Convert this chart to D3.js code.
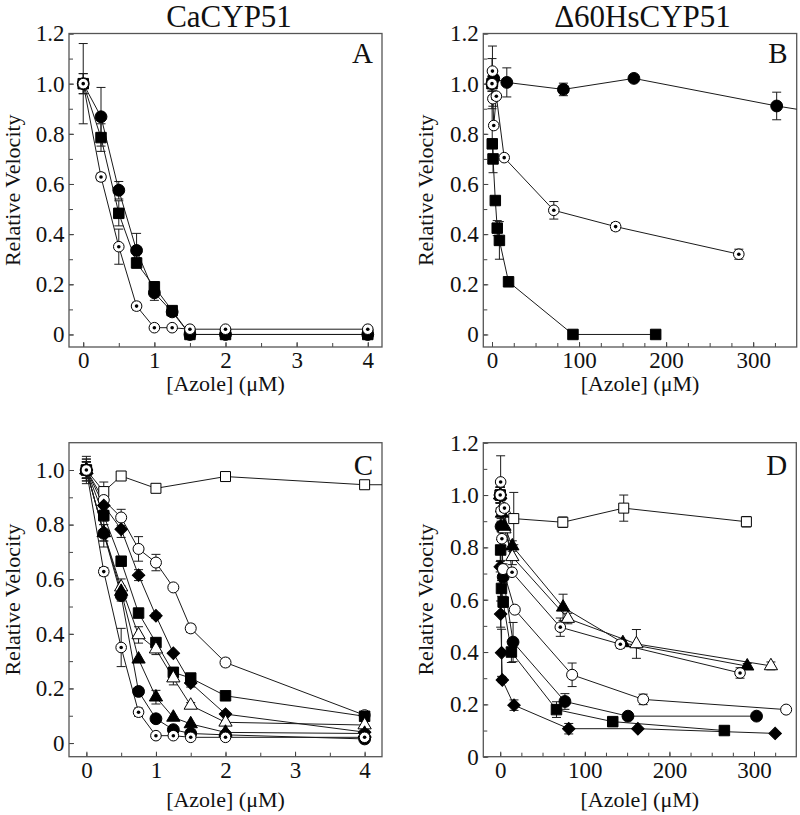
<!DOCTYPE html>
<html><head><meta charset="utf-8">
<script src="https://cdn.jsdelivr.net/npm/d3@7"></script>
<style>body{margin:0;background:#fff}svg{display:block}svg text{font-family:"Liberation Serif","Times New Roman",serif}</style>
</head><body>
<script>
// ================= DATA =================
const titleLeft = "CaCYP51";
const titleRight = "\u039460HsCYP51";
const xTitle = "[Azole] (\u03bcM)";
const yTitle = "Relative Velocity";

const xTicksSmall = [0, 1, 2, 3, 4];
const xTicksLarge = [0, 100, 200, 300];
const yTicks12 = [0, 0.2, 0.4, 0.6, 0.8, 1.0, 1.2];
const yTicks10 = [0, 0.2, 0.4, 0.6, 0.8, 1.0];

// Panel A (CaCYP51)
const A_x = [0, 0.25, 0.5, 0.75, 1, 1.25, 1.5, 2, 4];
const A_filledCircle     = [1.0, 0.868, 0.575, 0.335, 0.166, 0.09, 0, 0, 0];
const A_filledCircle_err = [0.16, 0.117, 0.035, 0.068, 0.03, 0.015, 0, 0, 0];
const A_filledSquare     = [1.0, 0.785, 0.483, 0.285, 0.19, 0.095, 0, 0, 0];
const A_filledSquare_err = [0.04, 0.055, 0.05, 0.02, 0.02, 0.01, 0, 0, 0];
const A_dotCircle        = [1.0, 0.628, 0.35, 0.113, 0.027, 0.027, 0.021, 0.021, 0.021];
const A_dotCircle_err    = [0.04, 0.015, 0.07, 0.015, 0, 0, 0, 0, 0];

// Panel B (Δ60HsCYP51)
const B_filledCircle_x   = [0, 2, 17, 82, 163, 327, 400];
const B_filledCircle     = [1.0, 1.02, 1.005, 0.977, 1.021, 0.911, 0.87];
const B_filledCircle_err = [0.1, 0.03, 0.058, 0.025, 0.01, 0.055, 0];
const B_dotCircle_x      = [0, 0.5, 1, 2, 5, 14, 71, 142, 283.5];
const B_dotCircle        = [1.0, 1.05, 0.94, 0.833, 0.95, 0.705, 0.495, 0.43, 0.32];
const B_dotCircle_err    = [0.03, 0.1, 0.03, 0, 0.01, 0.01, 0.035, 0.015, 0.02];
const B_filledSquare_x   = [0, 0.3, 1.2, 3.8, 6, 8.5, 19, 93, 188];
const B_filledSquare     = [1.0, 0.76, 0.70, 0.534, 0.424, 0.375, 0.21, 0, 0];
const B_filledSquare_err = [0.03, 0, 0.055, 0, 0.03, 0.075, 0, 0, 0];

// Panel C (CaCYP51, more azoles)
const C_x = [0, 0.25, 0.5, 0.75, 1, 1.25, 1.5, 2, 4];
const C_openSquare_x       = [0, 0.25, 0.5, 1, 2, 4, 8];
const C_openSquare         = [1.0, 0.921, 0.978, 0.933, 0.976, 0.946, 0.946];
const C_openSquare_err     = [0.05, 0.035, 0, 0, 0.01, 0, 0];
const C_openCircle         = [1.0, 0.89, 0.826, 0.711, 0.661, 0.57, 0.42, 0.295, 0.102];
const C_openCircle_err     = [0.04, 0.02, 0.03, 0.045, 0.03, 0, 0.015, 0.015, 0.01];
const C_filledDiamond      = [1.0, 0.87, 0.783, 0.615, 0.466, 0.329, 0.22, 0.106, 0.04];
const C_filledDiamond_err  = [0.03, 0.02, 0.03, 0.02, 0.01, 0, 0.015, 0, 0];
const C_filledSquare       = [1.0, 0.833, 0.666, 0.476, 0.368, 0.259, 0.238, 0.173, 0.098];
const C_filledSquare_err   = [0.03, 0.02, 0, 0.015, 0.015, 0.01, 0.015, 0, 0];
const C_openTriangle       = [1.0, 0.77, 0.571, 0.396, 0.344, 0.238, 0.138, 0.076, 0.066];
const C_openTriangle_err   = [0.03, 0.03, 0.03, 0.03, 0.02, 0.025, 0.01, 0, 0];
const C_filledTriangle     = [1.0, 0.77, 0.555, 0.307, 0.168, 0.094, 0.07, 0.039, 0.035];
const C_filledTriangle_err = [0.03, 0.03, 0.02, 0, 0.025, 0, 0, 0, 0];
const C_filledCircle       = [1.0, 0.768, 0.54, 0.189, 0.089, 0.049, 0.035, 0.03, 0.015];
const C_filledCircle_err   = [0.03, 0.05, 0.02, 0, 0, 0, 0, 0, 0];
const C_dotCircle          = [1.0, 0.628, 0.35, 0.113, 0.027, 0.027, 0.021, 0.021, 0.021];
const C_dotCircle_err      = [0.04, 0.015, 0.07, 0.015, 0, 0, 0, 0, 0];

// Panel D (Δ60HsCYP51, more azoles)
const D_openSquare_x       = [0, 16, 74, 146, 291];
const D_openSquare         = [1.0, 0.91, 0.896, 0.95, 0.898];
const D_openSquare_err     = [0.03, 0.1, 0.02, 0.05, 0.02];
const D_filledTriangle_x   = [0, 2, 5, 14.3, 74.3, 145, 292];
const D_filledTriangle     = [1.0, 0.93, 0.88, 0.805, 0.571, 0.435, 0.346];
const D_filledTriangle_err = [0.03, 0, 0, 0.02, 0.05, 0.01, 0.01];
const D_openTriangle_x     = [0, 2, 5, 14.3, 80, 161, 320];
const D_openTriangle       = [1.0, 0.95, 0.87, 0.764, 0.528, 0.431, 0.347];
const D_openTriangle_err   = [0.03, 0, 0, 0.03, 0.02, 0.055, 0.015];
const D_dotCircle_x        = [0, 0.5, 1, 2, 5, 14, 71, 142, 283.5];
const D_dotCircle          = [1.0, 1.05, 0.94, 0.833, 0.95, 0.705, 0.495, 0.43, 0.32];
const D_dotCircle_err      = [0.03, 0.1, 0.03, 0, 0.01, 0.01, 0.035, 0.015, 0.02];
const D_openCircle_x       = [0, 3.3, 17.2, 85, 169, 338];
const D_openCircle         = [1.0, 0.717, 0.562, 0.313, 0.219, 0.18];
const D_openCircle_err     = [0.05, 0.02, 0, 0.045, 0.02, 0];
const D_filledCircle_x     = [0, 1, 3.5, 15.2, 76.5, 151, 303];
const D_filledCircle       = [1.0, 0.88, 0.687, 0.438, 0.211, 0.155, 0.155];
const D_filledCircle_err   = [0.03, 0.02, 0.02, 0.075, 0.03, 0.01, 0.01];
const D_filledSquare_x     = [0, 0.5, 1.5, 3.5, 13.2, 66.5, 133, 265];
const D_filledSquare       = [1.0, 0.79, 0.643, 0.591, 0.40, 0.18, 0.134, 0.10];
const D_filledSquare_err   = [0.03, 0.04, 0.03, 0.02, 0.04, 0.03, 0, 0];
const D_filledDiamond_x    = [0, 0, 0.5, 1.6, 2.5, 16.3, 81, 162.7, 325];
const D_filledDiamond      = [1.0, 0.726, 0.545, 0.397, 0.293, 0.197, 0.107, 0.107, 0.089];
const D_filledDiamond_err  = [0.03, 0.02, 0.05, 0.09, 0.01, 0.02, 0.02, 0, 0];

// ================= LAYOUT =================
const FONT = '"Liberation Serif", "Times New Roman", serif';
const panels = [
  { key: "A", x0: 69, x1: 382, y0: 33.5, y1: 347, xDom: [-0.2, 4.2], yDom: [-0.05, 1.2],
    xMajor: xTicksSmall, xMinor: d3.range(0, 4.01, 0.5), yMajor: yTicks12, yMinor: d3.range(0, 1.21, 0.1),
    letterDY: 29.5, xTitleY: 391, yTitleX: 19.5,
    series: [
      { t: "filledSquare", x: A_x, y: A_filledSquare, e: A_filledSquare_err },
      { t: "filledCircle", x: A_x, y: A_filledCircle, e: A_filledCircle_err },
      { t: "dotCircle", x: A_x, y: A_dotCircle, e: A_dotCircle_err }
    ] },
  { key: "B", x0: 483.3, x1: 796.7, y0: 33.5, y1: 347, xDom: [-10, 350], yDom: [-0.05, 1.2],
    xMajor: xTicksLarge, xMinor: d3.range(0, 326, 25), yMajor: yTicks12, yMinor: d3.range(0, 1.21, 0.1),
    letterDY: 29.5, xTitleY: 391, yTitleX: 433,
    series: [
      { t: "filledCircle", x: B_filledCircle_x, y: B_filledCircle, e: B_filledCircle_err },
      { t: "filledSquare", x: B_filledSquare_x, y: B_filledSquare, e: B_filledSquare_err },
      { t: "dotCircle", x: B_dotCircle_x, y: B_dotCircle, e: B_dotCircle_err }
    ] },
  { key: "C", x0: 69, x1: 382, y0: 442.7, y1: 756.7, xDom: [-0.25, 4.25], yDom: [-0.05, 1.1],
    xMajor: xTicksSmall, xMinor: d3.range(0, 4.01, 0.5), yMajor: yTicks10, yMinor: d3.range(0, 1.01, 0.1),
    letterDY: 32, xTitleY: 807, yTitleX: 19.5,
    series: [
      { t: "openSquare", x: C_openSquare_x, y: C_openSquare, e: C_openSquare_err },
      { t: "openCircle", x: C_x, y: C_openCircle, e: C_openCircle_err },
      { t: "filledDiamond", x: C_x, y: C_filledDiamond, e: C_filledDiamond_err },
      { t: "filledSquare", x: C_x, y: C_filledSquare, e: C_filledSquare_err },
      { t: "openTriangle", x: C_x, y: C_openTriangle, e: C_openTriangle_err },
      { t: "filledTriangle", x: C_x, y: C_filledTriangle, e: C_filledTriangle_err },
      { t: "filledCircle", x: C_x, y: C_filledCircle, e: C_filledCircle_err },
      { t: "dotCircle", x: C_x, y: C_dotCircle, e: C_dotCircle_err }
    ] },
  { key: "D", x0: 483.3, x1: 796.3, y0: 442.7, y1: 756.7, xDom: [-20, 350], yDom: [0, 1.2],
    xMajor: xTicksLarge, xMinor: d3.range(0, 326, 25), yMajor: yTicks12, yMinor: d3.range(0, 1.21, 0.1),
    letterDY: 32, xTitleY: 807, yTitleX: 433,
    series: [
      { t: "openSquare", x: D_openSquare_x, y: D_openSquare, e: D_openSquare_err },
      { t: "filledDiamond", x: D_filledDiamond_x, y: D_filledDiamond, e: D_filledDiamond_err },
      { t: "filledSquare", x: D_filledSquare_x, y: D_filledSquare, e: D_filledSquare_err },
      { t: "filledCircle", x: D_filledCircle_x, y: D_filledCircle, e: D_filledCircle_err },
      { t: "openCircle", x: D_openCircle_x, y: D_openCircle, e: D_openCircle_err },
      { t: "openTriangle", x: D_openTriangle_x, y: D_openTriangle, e: D_openTriangle_err },
      { t: "filledTriangle", x: D_filledTriangle_x, y: D_filledTriangle, e: D_filledTriangle_err },
      { t: "dotCircle", x: D_dotCircle_x, y: D_dotCircle, e: D_dotCircle_err }
    ] }
];

const markerStyle = {
  filledCircle:   { sym: d3.symbolCircle,   size: 110, fill: "#000", rot: 0 },
  filledSquare:   { sym: d3.symbolSquare,   size: 110, fill: "#000", rot: 0 },
  openCircle:     { sym: d3.symbolCircle,   size: 95,  fill: "#fff", rot: 0 },
  openSquare:     { sym: d3.symbolSquare,   size: 100, fill: "#fff", rot: 0 },
  filledTriangle: { sym: d3.symbolTriangle, size: 76,  fill: "#000", rot: 0 },
  openTriangle:   { sym: d3.symbolTriangle, size: 76,  fill: "#fff", rot: 0 },
  filledDiamond:  { sym: d3.symbolSquare,   size: 78,  fill: "#000", rot: 45 },
  dotCircle:      { sym: d3.symbolCircle,   size: 88,  fill: "#fff", rot: 0 }
};

// ================= DRAW =================
const svg = d3.select("body").append("svg").attr("width", 800).attr("height", 815);
const defs = svg.append("defs");
const txt = (sel, size) => sel.style("font-family", FONT).style("font-size", size + "px").attr("fill", "#111");

txt(svg.append("text").attr("x", 229).attr("y", 27).attr("text-anchor", "middle"), 31).text(titleLeft);
txt(svg.append("text").attr("x", 642.5).attr("y", 27).attr("text-anchor", "middle"), 31).text(titleRight);

const yFmt = d => d === 0 ? "0" : d3.format(".1f")(d);

panels.forEach(p => {
  const x = d3.scaleLinear().domain(p.xDom).range([p.x0, p.x1]);
  const y = d3.scaleLinear().domain(p.yDom).range([p.y1, p.y0]);
  const g = svg.append("g");

  defs.append("clipPath").attr("id", "clip" + p.key).append("rect")
    .attr("x", p.x0).attr("y", p.y0).attr("width", p.x1 - p.x0).attr("height", p.y1 - p.y0);

  const styleAxis = sel => {
    sel.select(".domain").remove();
    sel.selectAll(".tick line").attr("stroke", "#444").attr("stroke-width", 1);
    txt(sel.selectAll(".tick text"), 23);
  };

  // minor ticks
  g.append("g").attr("transform", `translate(0,${p.y1})`)
    .call(d3.axisBottom(x).tickValues(p.xMinor).tickSize(-4).tickFormat("")).call(styleAxis);
  g.append("g").attr("transform", `translate(${p.x0},0)`)
    .call(d3.axisLeft(y).tickValues(p.yMinor).tickSize(-4).tickFormat("")).call(styleAxis);
  // major ticks with labels
  g.append("g").attr("transform", `translate(0,${p.y1})`)
    .call(d3.axisBottom(x).tickValues(p.xMajor).tickSize(-5).tickPadding(5).tickFormat(d3.format("d")))
    .call(styleAxis);
  g.append("g").attr("transform", `translate(${p.x0},0)`)
    .call(d3.axisLeft(y).tickValues(p.yMajor).tickSize(-5).tickPadding(4.5).tickFormat(yFmt))
    .call(styleAxis);

  // frame
  g.append("rect").attr("x", p.x0).attr("y", p.y0).attr("width", p.x1 - p.x0).attr("height", p.y1 - p.y0)
    .attr("fill", "none").attr("stroke", "#555").attr("stroke-width", 1.3);

  // panel letter
  txt(g.append("text").attr("x", p.x1 - 9).attr("y", p.y0 + p.letterDY).attr("text-anchor", "end"), 29).text(p.key);

  // axis titles
  txt(g.append("text").attr("x", (p.x0 + p.x1) / 2).attr("y", p.xTitleY).attr("text-anchor", "middle"), 22).text(xTitle);
  txt(g.append("text").attr("transform", `translate(${p.yTitleX},${(p.y0 + p.y1) / 2}) rotate(-90)`)
    .attr("text-anchor", "middle"), 22).text(yTitle);

  const plot = g.append("g").attr("clip-path", `url(#clip${p.key})`);
  const line = d3.line().x(d => x(d[0])).y(d => y(d[1]));
  const rows = p.series.map(s => ({ t: s.t, pts: d3.zip(s.x, s.y, s.e) }));

  // lines
  rows.forEach(r => {
    plot.append("path").attr("d", line(r.pts)).attr("fill", "none")
      .attr("stroke", "#1a1a1a").attr("stroke-width", 1);
  });
  // error bars
  rows.forEach(r => {
    r.pts.filter(d => d[2] > 0).forEach(d => {
      const cx = x(d[0]), yt = y(d[1] + d[2]), yb = y(d[1] - d[2]);
      const eg = plot.append("g").attr("stroke", "#1a1a1a").attr("stroke-width", 1);
      eg.append("line").attr("x1", cx).attr("x2", cx).attr("y1", yt).attr("y2", yb);
      eg.append("line").attr("x1", cx - 4.5).attr("x2", cx + 4.5).attr("y1", yt).attr("y2", yt);
      eg.append("line").attr("x1", cx - 4.5).attr("x2", cx + 4.5).attr("y1", yb).attr("y2", yb);
    });
  });
  // markers
  rows.forEach(r => {
    const st = markerStyle[r.t];
    const sym = d3.symbol().type(st.sym).size(st.size);
    r.pts.filter(d => d[0] >= p.xDom[0] && d[0] <= p.xDom[1]).forEach(d => {
      const m = plot.append("g").attr("transform", `translate(${x(d[0])},${y(d[1])}) rotate(${st.rot})`);
      m.append("path").attr("d", sym()).attr("fill", st.fill).attr("stroke", "#000").attr("stroke-width", 1);
      if (r.t === "dotCircle") m.append("circle").attr("r", 1.8).attr("fill", "#000");
    });
  });
});
</script>
</body></html>
